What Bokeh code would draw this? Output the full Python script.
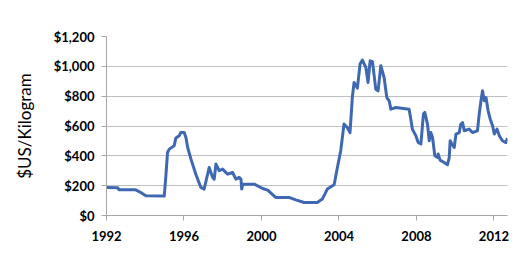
from bokeh.plotting import figure
from bokeh.models import FixedTicker, NumeralTickFormatter, Range1d
from bokeh.embed import file_html
from bokeh.resources import INLINE

years = [1992.02, 1992.58, 1992.64, 1993.51, 1993.77, 1994.03, 1994.98, 1995.06, 1995.15,
         1995.24, 1995.49, 1995.58, 1995.75, 1995.84, 1996.01, 1996.10, 1996.19, 1996.36,
         1996.61, 1996.87, 1997.04, 1997.30, 1997.48, 1997.56, 1997.65, 1997.82, 1997.99,
         1998.25, 1998.51, 1998.68, 1998.85, 1998.94, 1998.98, 1999.03, 1999.63, 1999.80,
         2000.06, 2000.32, 2000.73, 2001.42, 2001.77, 2002.20, 2002.88, 2003.14, 2003.40,
         2003.75, 2003.92, 2004.09, 2004.26, 2004.43, 2004.57, 2004.69, 2004.78, 2004.95,
         2005.09, 2005.21, 2005.39, 2005.50, 2005.61, 2005.73, 2005.90, 2006.02, 2006.16,
         2006.33, 2006.47, 2006.59, 2006.68, 2006.94, 2007.62, 2007.71, 2007.79, 2007.97,
         2008.09, 2008.23, 2008.36, 2008.43, 2008.57, 2008.66, 2008.74, 2008.83, 2008.95,
         2009.09, 2009.12, 2009.22, 2009.43, 2009.60, 2009.69, 2009.74, 2009.83, 2009.95,
         2010.04, 2010.21, 2010.29, 2010.38, 2010.47, 2010.72, 2010.89, 2011.15, 2011.24,
         2011.33, 2011.41, 2011.50, 2011.59, 2011.70, 2011.81, 2011.93, 2012.02, 2012.16,
         2012.28, 2012.44, 2012.62, 2012.70]
prices = [188, 186, 172, 172, 154, 132, 130, 255, 422,
          445, 467, 519, 534, 556, 556, 523, 456, 378,
          277, 188, 177, 322, 255, 244, 345, 300, 311,
          277, 288, 244, 255, 244, 177, 210, 210, 199,
          181, 170, 121, 121, 105, 87, 87, 110, 177,
          206, 322, 434, 613, 590, 556, 791, 892, 854,
          1015, 1042, 992, 892, 1037, 1032, 847, 836, 1004,
          925, 791, 769, 713, 724, 713, 646, 579, 534,
          489, 479, 680, 691, 613, 501, 556, 523, 400,
          389, 412, 371, 355, 340, 389, 501, 479, 456,
          546, 556, 613, 623, 568, 579, 556, 568, 680,
          769, 836, 769, 791, 702, 646, 601, 546, 579,
          534, 501, 489, 519]
x_ticks = [1992, 1996, 2000, 2004, 2008, 2012]
y_ticks = [0, 200, 400, 600, 800, 1000, 1200]
y_title = "$US/Kilogram"

p = figure(width=526, height=269, output_backend="svg", toolbar_location=None,
           x_range=Range1d(1992, 2012.7), y_range=Range1d(0, 1200),
           min_border_left=106, min_border_right=19, min_border_top=36, min_border_bottom=54)
p.outline_line_color = None
p.background_fill_color = "white"
p.border_fill_color = "white"

p.line(years, prices, line_color="#3f68b2", line_width=3, line_join="round")

grey = "#a6a6a6"
p.xgrid.grid_line_color = None
p.ygrid.grid_line_color = "#c0c0c0"
p.ygrid.grid_line_width = 1.2

p.xaxis.ticker = FixedTicker(ticks=x_ticks)
p.yaxis.ticker = FixedTicker(ticks=y_ticks)
p.yaxis.formatter = NumeralTickFormatter(format="$0,0")
p.xaxis.formatter = NumeralTickFormatter(format="0")

for ax in (p.xaxis[0], p.yaxis[0]):
    ax.axis_line_color = grey
    ax.major_tick_line_color = grey
    ax.major_tick_in = 0
    ax.major_tick_out = 5
    ax.minor_tick_line_color = None
    ax.major_label_text_font = "Lato"
    ax.major_label_text_font_style = "bold"
    ax.major_label_text_font_size = "13px"
    ax.major_label_text_color = "black"

p.xaxis.major_label_standoff = 10
p.yaxis.major_label_standoff = 7
p.yaxis.axis_label = y_title
p.yaxis.axis_label_text_font = "Lato"
p.yaxis.axis_label_text_font_style = "normal"
p.yaxis.axis_label_text_font_size = "17px"
p.yaxis.axis_label_text_color = "black"
p.yaxis.axis_label_standoff = 16

open("out.html", "w").write(file_html(p, INLINE))
